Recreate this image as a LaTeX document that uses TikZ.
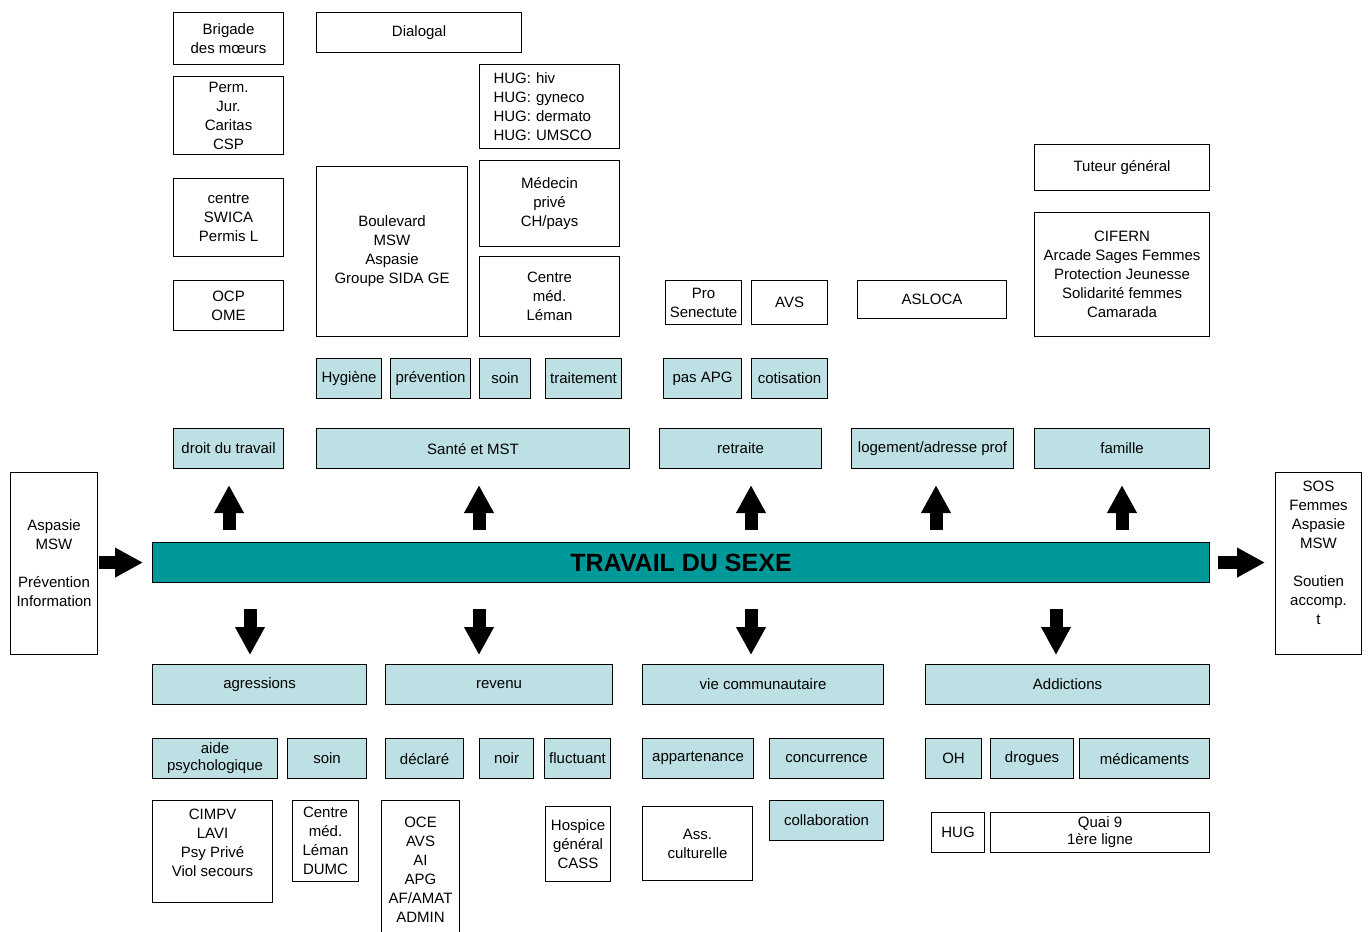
\documentclass[tikz,border=0pt]{standalone}
\usepackage{fontspec}
\setmainfont{Liberation Sans}
\usetikzlibrary{arrows.meta}
\definecolor{pale}{RGB}{189,224,228}
\definecolor{barteal}{RGB}{0,153,153}
\begin{document}
\begin{tikzpicture}[x=1pt, y=-1pt,
  box/.style={draw, line width=1.1pt, inner sep=1pt, align=center, anchor=north west,
    font=\fontsize{15}{19}\selectfont},
  sz/.style 2 args={minimum width=#1pt, minimum height=#2pt},
  topic/.style={box, fill=pale},
  bigarr/.style={line width=13pt, -{Triangle[width=28pt,length=28pt]}}]
\useasboundingbox (0,0) rectangle (1369,932);

% organisations, top
\node[box, sz={110}{52}] (brig) at (173,12) {Brigade\\des mœurs};
\node[box, sz={110}{78}] (perm) at (173,76) {Perm.\\Jur.\\Caritas\\CSP};
\node[box, sz={110}{78}] (swica) at (173,178) {centre\\SWICA\\Permis L};
\node[box, sz={110}{50}] (ocp) at (173,280) {OCP\\OME};
\node[box, sz={205}{40}] (dial) at (316,12) {Dialogal};
\node[box, sz={140}{84}, align=left, text width=112pt] (hug) at (479,64) {HUG: hiv\\HUG: gyneco\\HUG: dermato\\HUG: UMSCO};
\node[box, sz={151}{170}] (boul) at (316,166) {Boulevard\\MSW\\Aspasie\\Groupe SIDA GE};
\node[box, sz={140}{86}] (med) at (479,160) {Médecin\\privé\\CH/pays};
\node[box, sz={140}{80}] (leman) at (479,256) {Centre\\méd.\\Léman};
\node[box, sz={76}{44}] (pro) at (665,280) {Pro\\Senectute};
\node[box, sz={76}{44}] (avs) at (751,280) {AVS};
\node[box, sz={149}{38}] (asloca) at (857,280) {ASLOCA};
\node[box, sz={175}{46}] (tut) at (1034,144) {Tuteur général};
\node[box, sz={175}{124}] (cif) at (1034,212) {CIFERN\\Arcade Sages Femmes\\Protection Jeunesse\\Solidarité femmes\\Camarada};

% sub-themes, top
\node[topic, sz={65}{40}] (hyg) at (316,358) {Hygiène};
\node[topic, sz={80}{40}] (prev) at (390,358) {prévention};
\node[topic, sz={51}{40}] (soinA) at (479,358) {soin};
\node[topic, sz={76}{40}] (trait) at (545,358) {traitement};
\node[topic, sz={78}{40}] (apg) at (663,358) {pas APG};
\node[topic, sz={76}{40}] (cotis) at (751,358) {cotisation};

% themes, top
\node[topic, sz={110}{40}] (droit) at (173,428) {droit du travail};
\node[topic, sz={313}{40}] (sante) at (316,428) {Santé et MST};
\node[topic, sz={162}{40}] (retr) at (659,428) {retraite};
\node[topic, sz={162}{40}] (loge) at (851,428) {logement/adresse prof};
\node[topic, sz={175}{40}] (fam) at (1034,428) {famille};

% centre line
\node[box, sz={1057}{40}, fill=barteal, font=\bfseries\fontsize{25}{30}\selectfont] (tds) at (152,542) {TRAVAIL DU SEXE};
\node[box, sz={87}{182}] (asp) at (10,472) {Aspasie\\MSW\\[19pt]Prévention\\Information};
\node[box, sz={86}{182}] (sos) at (1275,472) {SOS\\Femmes\\Aspasie\\MSW\\[19pt]Soutien\\accomp.\\t\\[3pt]\mbox{}};

% themes, bottom
\node[topic, sz={214}{40}] (agr) at (152,664) {agressions};
\node[topic, sz={227}{40}] (rev) at (385,664) {revenu};
\node[topic, sz={241}{40}] (vie) at (642,664) {vie communautaire};
\node[topic, sz={284}{40}] (addi) at (925,664) {Addictions};

% sub-themes, bottom
\node[topic, sz={125}{40}, font=\fontsize{15}{17}\selectfont] (aide) at (152,738) {aide\\psychologique};
\node[topic, sz={79}{40}] (soinB) at (287,738) {soin};
\node[topic, sz={78}{40}] (decl) at (385,738) {déclaré};
\node[topic, sz={54}{40}] (noir) at (479,738) {noir};
\node[topic, sz={66}{40}] (fluct) at (544,738) {fluctuant};
\node[topic, sz={111}{40}] (appart) at (642,738) {appartenance};
\node[topic, sz={114}{40}] (conc) at (769,738) {concurrence};
\node[topic, sz={56}{40}] (oh) at (925,738) {OH};
\node[topic, sz={83}{40}] (drog) at (990,738) {drogues};
\node[topic, sz={130}{40}] (medic) at (1079,738) {médicaments};

% organisations, bottom
\node[box, sz={120}{102}] (cimpv) at (152,800) {CIMPV\\LAVI\\Psy Privé\\Viol secours\\[-1pt]\mbox{}};
\node[box, sz={66}{81}] (dumc) at (292,800) {Centre\\méd.\\Léman\\DUMC};
\node[box, sz={78}{138}] (oce) at (381,800) {OCE\\AVS\\AI\\APG\\AF/AMAT\\ADMIN};
\node[box, sz={65}{75}] (hosp) at (545,806) {Hospice\\général\\CASS};
\node[box, sz={110}{74}] (ass) at (642,806) {Ass.\\culturelle};
\node[topic, sz={114}{40}] (collab) at (769,800) {collaboration};
\node[box, sz={53}{40}] (hugB) at (931,812) {HUG};
\node[box, sz={219}{40}, font=\fontsize{15}{17}\selectfont] (quai) at (990,812) {Quai 9\\1ère ligne};

% arrows
\foreach \n/\x in {droit/229, sante/479, retr/751, loge/936, fam/1122}
{
  \draw[bigarr, shorten <=12pt, shorten >=16pt] (tds.north -| \x,0) -- (\n.south -| \x,0);
}
\foreach \n/\x in {agr/250, rev/479, vie/751, addi/1056}
{
  \draw[bigarr, shorten <=26pt, shorten >=9pt] (tds.south -| \x,0) -- (\n.north -| \x,0);
}
\draw[bigarr, shorten <=1pt, shorten >=9pt] (asp.east |- tds.west) -- (tds.west);
\draw[bigarr, shorten <=8pt, shorten >=10pt] (tds.east) -- (sos.west |- tds.east);

\end{tikzpicture}
\end{document}
